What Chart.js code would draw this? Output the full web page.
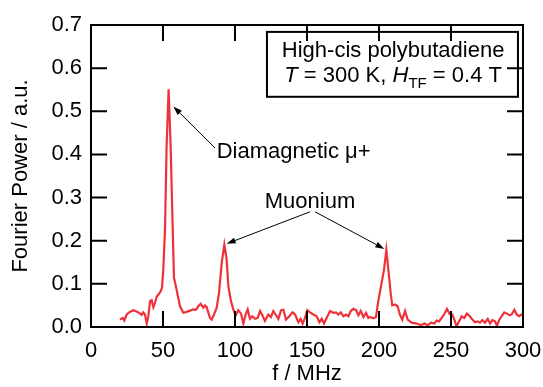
<!DOCTYPE html>
<html>
<head>
<meta charset="utf-8">
<script src="https://cdn.jsdelivr.net/npm/chart.js@4.4.1/dist/chart.umd.min.js"></script>
<style>
  html, body { margin: 0; padding: 0; background: #fff; }
</style>
</head>
<body>
<canvas id="myChart" width="543" height="387"></canvas>
<script>
// Fourier power spectrum
const freqs = [
  20.1, 22.0, 23.1, 24.8, 27.0, 29.4, 31.7, 33.6, 35.2, 36.3, 37.5, 38.7, 39.8,
  41.0, 42.1, 43.3, 44.4, 45.6, 47.2, 48.4, 49.3, 50.2, 51.4, 52.5, 53.9, 55.3,
  56.7, 57.6, 59.4, 61.8, 64.1, 66.4, 68.8, 71.1, 72.9, 74.5, 76.2, 77.9, 79.2,
  80.3, 82.6, 83.8, 85.4, 87.3, 88.9, 90.8, 92.6, 94.2, 95.4, 97.2, 98.8, 100.5,
  102.3, 104.2, 105.8, 107.4, 108.8, 110.4, 112.0, 113.9, 115.7, 117.4, 119.0,
  120.8, 123.1, 125.0, 126.6, 128.2, 130.1, 132.0, 133.6, 135.4, 137.7, 140.0,
  141.7, 144.0, 145.6, 147.0, 148.6, 150.2, 152.1, 154.4, 156.7, 158.6, 160.2,
  161.8, 163.6, 166.0, 168.3, 170.1, 171.8, 173.4, 175.3, 177.1, 178.7, 180.4,
  182.2, 184.1, 185.7, 187.3, 189.2, 191.0, 192.6, 193.7, 196.0, 197.9, 199.5,
  201.8, 203.5, 205.1, 206.5, 208.1, 209.2, 211.1, 212.9, 214.5, 216.2, 218.1,
  219.9, 222.7, 226.2, 229.2, 231.5, 233.8, 236.1, 238.4, 240.1, 241.7, 243.5,
  245.4, 247.2, 249.0, 250.9, 252.3, 253.9, 255.6, 257.4, 259.3, 260.9, 262.5,
  264.4, 266.7, 268.5, 270.1, 271.8, 273.6, 275.5, 277.1, 278.7, 280.6, 281.9,
  283.6, 285.2, 287.0, 288.9, 290.7, 292.1, 294.0, 295.6, 297.2, 299.1, 300.0
]
const power = [
  0.017, 0.021, 0.015, 0.029, 0.035, 0.039, 0.036, 0.032, 0.028, 0.034, 0.029, 0.008, 0.025,
  0.060, 0.062, 0.046, 0.056, 0.070, 0.077, 0.083, 0.091, 0.133, 0.226, 0.419, 0.551, 0.419,
  0.233, 0.115, 0.087, 0.048, 0.033, 0.035, 0.038, 0.041, 0.040, 0.048, 0.054, 0.045, 0.050,
  0.046, 0.021, 0.017, 0.029, 0.045, 0.079, 0.149, 0.191, 0.156, 0.094, 0.060, 0.041, 0.027,
  0.039, 0.031, 0.008, 0.029, 0.041, 0.019, 0.025, 0.019, 0.021, 0.037, 0.027,
  0.014, 0.029, 0.023, 0.037, 0.029, 0.019, 0.039, 0.040, 0.017, 0.025, 0.034,
  0.029, 0.011, 0.019, 0.008, 0.021, 0.039, 0.034, 0.029, 0.025, 0.011, 0.019,
  0.008, 0.021, 0.037, 0.033, 0.034, 0.029, 0.034, 0.025, 0.029, 0.025, 0.037,
  0.042, 0.039, 0.027, 0.037, 0.023, 0.033, 0.021, 0.023, 0.020, 0.023, 0.060,
  0.102, 0.133, 0.179, 0.133, 0.079, 0.050, 0.052, 0.048, 0.029, 0.017, 0.037,
  0.017, 0.010, 0.008, 0.004, 0.008, 0.004, 0.010, 0.008, 0.015, 0.013, 0.021,
  0.030, 0.042, 0.030, 0.029, 0.017, 0.002, 0.013, 0.025, 0.021, 0.031, 0.027,
  0.019, 0.011, 0.013, 0.010, 0.016, 0.010, 0.019, 0.008, 0.016, 0.013, 0.003,
  0.017, 0.025, 0.034, 0.031, 0.027, 0.029, 0.040, 0.029, 0.025, 0.029, 0.031
]
const xTicks = [0, 50, 100, 150, 200, 250, 300]
const yTicks = [0, 0.1, 0.2, 0.3, 0.4, 0.5, 0.6, 0.7]

const FONT = '"Liberation Sans", Arial, sans-serif'

// labels & arrows, in data units
const notes = [
  { text: 'Diamagnetic μ+', x: 87.3, y: 0.391, align: 'left' },
  { text: 'Muonium', x: 152.1, y: 0.276, align: 'center' }
]
const arrows = [
  { from: [86.1, 0.415], to: [57.2, 0.511] },
  { from: [152.1, 0.267], to: [94.2, 0.193] },
  { from: [155.6, 0.267], to: [203.7, 0.181] }
]
const infoBox = { x0: 122.2, y0: 0.684, x1: 296.5, y1: 0.5336, cx: 209.8 }

// inward ticks on all four sides + frame
const frameTicks = {
  id: 'frameTicks',
  afterDatasetsDraw(chart) {
    const { ctx, chartArea: a, scales: { x, y } } = chart
    const len = 16
    ctx.save()
    ctx.strokeStyle = '#000'
    ctx.lineWidth = 2
    ctx.beginPath()
    xTicks.forEach(v => {
      const px = x.getPixelForValue(v)
      ctx.moveTo(px, a.bottom); ctx.lineTo(px, a.bottom - len)
      ctx.moveTo(px, a.top); ctx.lineTo(px, a.top + len)
    })
    yTicks.forEach(v => {
      const py = y.getPixelForValue(v)
      ctx.moveTo(a.left, py); ctx.lineTo(a.left + len, py)
      ctx.moveTo(a.right, py); ctx.lineTo(a.right - len, py)
    })
    ctx.stroke()
    ctx.strokeRect(a.left, a.top, a.right - a.left, a.bottom - a.top)
    ctx.restore()
  }
}

function drawArrow(ctx, x1, y1, x2, y2) {
  const ang = Math.atan2(y2 - y1, x2 - x1)
  const hl = 9, hw = 3
  ctx.beginPath()
  ctx.moveTo(x1, y1)
  ctx.lineTo(x2 - Math.cos(ang) * hl, y2 - Math.sin(ang) * hl)
  ctx.stroke()
  ctx.beginPath()
  ctx.moveTo(x2, y2)
  ctx.lineTo(x2 - Math.cos(ang) * hl - Math.sin(ang) * hw, y2 - Math.sin(ang) * hl + Math.cos(ang) * hw)
  ctx.lineTo(x2 - Math.cos(ang) * hl + Math.sin(ang) * hw, y2 - Math.sin(ang) * hl - Math.cos(ang) * hw)
  ctx.closePath()
  ctx.fill()
}

const annotations = {
  id: 'annotations',
  afterDraw(chart) {
    const { ctx, scales: { x, y } } = chart
    ctx.save()
    ctx.fillStyle = '#000'
    ctx.strokeStyle = '#000'
    ctx.lineWidth = 1
    ctx.textBaseline = 'alphabetic'
    ctx.font = '22px ' + FONT
    notes.forEach(n => {
      ctx.textAlign = n.align
      ctx.fillText(n.text, x.getPixelForValue(n.x), y.getPixelForValue(n.y))
    })
    arrows.forEach(a => {
      drawArrow(ctx, x.getPixelForValue(a.from[0]), y.getPixelForValue(a.from[1]),
                x.getPixelForValue(a.to[0]), y.getPixelForValue(a.to[1]))
    })

    // info box
    const bx0 = x.getPixelForValue(infoBox.x0), bx1 = x.getPixelForValue(infoBox.x1)
    const by0 = y.getPixelForValue(infoBox.y0), by1 = y.getPixelForValue(infoBox.y1)
    ctx.lineWidth = 2
    ctx.strokeRect(bx0, by0, bx1 - bx0, by1 - by0)
    const cx = x.getPixelForValue(infoBox.cx)
    ctx.textAlign = 'center'
    ctx.fillText('High-cis polybutadiene', cx, by0 + 25.5)

    // second line: mixed italic / subscript
    const parts = [
      { t: 'T', f: 'italic 22px ' + FONT, dy: 0 },
      { t: ' = 300 K, ', f: '22px ' + FONT, dy: 0 },
      { t: 'H', f: 'italic 22px ' + FONT, dy: 0 },
      { t: 'TF', f: '15px ' + FONT, dy: 6 },
      { t: ' = 0.4 T', f: '22px ' + FONT, dy: 0 }
    ]
    let total = 0
    parts.forEach(p => { ctx.font = p.f; p.w = ctx.measureText(p.t).width; total += p.w })
    let px = cx - total / 2
    ctx.textAlign = 'left'
    parts.forEach(p => {
      ctx.font = p.f
      ctx.fillText(p.t, px, by0 + 50.5 + p.dy)
      px += p.w
    })
    ctx.restore()
  }
}

const ctx = document.getElementById('myChart')
const myChart = new Chart(ctx, {
  type: 'scatter',
  data: {
    datasets: [{
      label: 'Fourier Power',
      data: freqs.map((f, i) => ({ x: f, y: power[i] })),
      showLine: true,
      borderColor: 'rgb(238, 50, 58)',
      borderWidth: 2.2,
      pointRadius: 0,
      tension: 0
    }]
  },
  options: {
    responsive: false,
    animation: false,
    layout: { padding: { top: 25, right: 20, left: 0, bottom: 0 } },
    plugins: {
      legend: { display: false },
      tooltip: { enabled: false }
    },
    scales: {
      x: {
        type: 'linear',
        min: 0,
        max: 300,
        afterBuildTicks: axis => { axis.ticks = xTicks.map(v => ({ value: v })) },
        afterFit: axis => { axis.height = 60; axis.paddingLeft = 0; axis.paddingRight = 0 },
        grid: { display: false, drawTicks: false },
        border: { display: false },
        ticks: { color: '#000', font: { family: FONT, size: 22 }, padding: 11, maxRotation: 0 },
        title: { display: true, text: 'f / MHz', color: '#000', font: { family: FONT, size: 22 }, padding: 0 }
      },
      y: {
        type: 'linear',
        min: 0,
        max: 0.7,
        afterBuildTicks: axis => { axis.ticks = yTicks.map(v => ({ value: v })) },
        afterFit: axis => { axis.width = 91; axis.paddingTop = 0; axis.paddingBottom = 0 },
        grid: { display: false, drawTicks: false },
        border: { display: false },
        ticks: { color: '#000', font: { family: FONT, size: 22 }, padding: 9, callback: v => v.toFixed(1) },
        title: { display: true, text: 'Fourier Power / a.u.', color: '#000', font: { family: FONT, size: 22 }, padding: { top: 8, bottom: 0 } }
      }
    }
  },
  plugins: [frameTicks, annotations]
})
</script>
</body>
</html>
